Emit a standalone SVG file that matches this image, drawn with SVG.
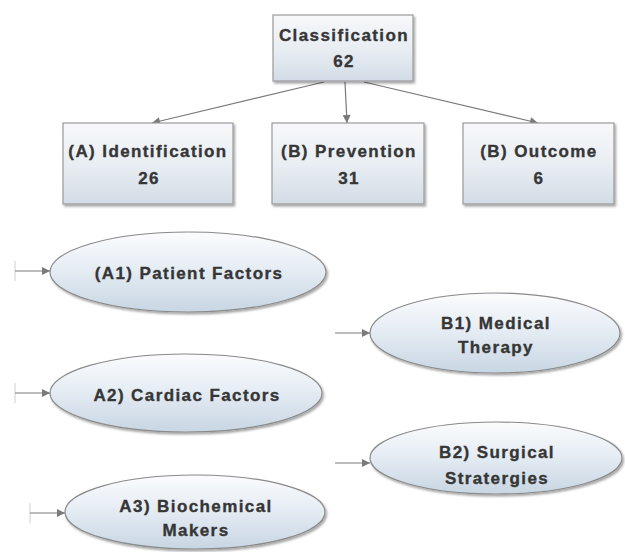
<svg xmlns="http://www.w3.org/2000/svg" width="625" height="552" viewBox="0 0 625 552">
<defs>
<linearGradient id="boxGrad" x1="0" y1="0" x2="0" y2="1">
<stop offset="0" stop-color="#f7f8fa"/>
<stop offset="0.5" stop-color="#e9eef3"/>
<stop offset="1" stop-color="#d2dce6"/>
</linearGradient>
<linearGradient id="ellGrad" x1="0" y1="0" x2="0" y2="1">
<stop offset="0" stop-color="#fbfcfd"/>
<stop offset="0.45" stop-color="#e6edf4"/>
<stop offset="1" stop-color="#c8d6e3"/>
</linearGradient>
<filter id="shadow" x="-10%" y="-10%" width="125%" height="130%">
<feDropShadow dx="1.5" dy="2" stdDeviation="1.2" flood-color="#000" flood-opacity="0.35"/>
</filter>
<marker id="arrow" viewBox="0 0 10 10" refX="10" refY="5" markerWidth="9" markerHeight="8" markerUnits="userSpaceOnUse" orient="auto">
<path d="M0,0 L10,5 L0,10 z" fill="#7a7a7a"/>
</marker>
</defs>
<style>
.box{fill:url(#boxGrad);stroke:#9a9a9a;stroke-width:1.2;filter:url(#shadow)}
.ell{fill:url(#ellGrad);stroke:#8a8a8a;stroke-width:1.2;filter:url(#shadow)}
.lbl{font-family:"Liberation Sans",Arial,sans-serif;font-weight:bold;font-size:17px;letter-spacing:1.4px;fill:#363636;stroke:#363636;stroke-width:0.35;text-anchor:middle}
.conn{fill:none;stroke:#7a7a7a;stroke-width:1.2;marker-end:url(#arrow)}
.tick{fill:none;stroke:#d0d0d0;stroke-width:1}
</style>
<rect width="625" height="552" fill="#ffffff"/>
<g id="connectors">
<path class="conn" d="M324,82 L152,123"/>
<path class="conn" d="M345,82 L347,123"/>
<path class="conn" d="M364,82 L538,123"/>
<path class="tick" d="M15,261 V281"/>
<path class="conn" d="M15,271 H50"/>
<path class="tick" d="M15,383 V403"/>
<path class="conn" d="M15,393 H50"/>
<path class="tick" d="M30,503 V523"/>
<path class="conn" d="M30,513 H65"/>
<path class="conn" d="M335,333 H370"/>
<path class="conn" d="M335,463 H370"/>
</g>
<g id="classification">
<rect class="box" x="273" y="15" width="140" height="66"/>
<text class="lbl" x="344" y="41">Classification</text>
<text class="lbl" x="344" y="67">62</text>
</g>
<g id="identification">
<rect class="box" x="63" y="123" width="170" height="81"/>
<text class="lbl" x="148" y="157">(A) Identification</text>
<text class="lbl" x="149" y="184">26</text>
</g>
<g id="prevention">
<rect class="box" x="272" y="123" width="152" height="81"/>
<text class="lbl" x="349" y="157">(B) Prevention</text>
<text class="lbl" x="349" y="184">31</text>
</g>
<g id="outcome">
<rect class="box" x="463" y="123" width="151" height="81"/>
<text class="lbl" x="539" y="157">(B) Outcome</text>
<text class="lbl" x="539" y="184">6</text>
</g>
<g id="a1">
<ellipse class="ell" cx="188" cy="272" rx="138" ry="40"/>
<text class="lbl" x="189" y="279">(A1) Patient Factors</text>
</g>
<g id="a2">
<ellipse class="ell" cx="186" cy="393" rx="136" ry="39"/>
<text class="lbl" x="187" y="401">A2) Cardiac Factors</text>
</g>
<g id="a3">
<ellipse class="ell" cx="195" cy="512" rx="130" ry="37"/>
<text class="lbl" x="196" y="512">A3) Biochemical</text>
<text class="lbl" x="196" y="536">Makers</text>
</g>
<g id="b1">
<ellipse class="ell" cx="495" cy="333" rx="125" ry="40"/>
<text class="lbl" x="496" y="329">B1) Medical</text>
<text class="lbl" x="496" y="353">Therapy</text>
</g>
<g id="b2">
<ellipse class="ell" cx="496" cy="458" rx="126" ry="36"/>
<text class="lbl" x="497" y="458">B2) Surgical</text>
<text class="lbl" x="497" y="484">Stratergies</text>
</g>
</svg>
